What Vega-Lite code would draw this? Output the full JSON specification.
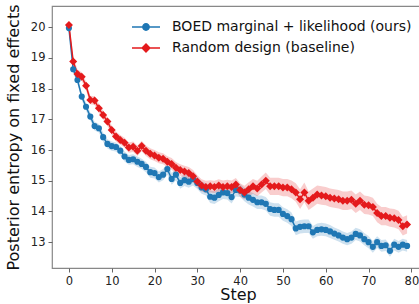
{
  "$schema": "https://vega.github.io/schema/vega-lite/v6.json",
  "width": 372,
  "height": 262,
  "autosize": {"type": "none"},
  "padding": {"left": 52, "top": 6, "right": 0, "bottom": 36},
  "config": {
    "font": "DejaVu Sans",
    "view": {"stroke": "#888", "strokeWidth": 1.2},
    "axis": {"domain": false, "grid": false, "labelOverlap": false, "labelFlush": false, "tickColor": "#666", "tickSize": 4, "tickWidth": 1, "labelColor": "#222", "labelFontSize": 11.5, "labelPadding": 3, "titleColor": "#111", "titleFontSize": 16, "titleFontWeight": "normal"}
  },
  "data": {"values": [
    {"s":"b","x":0,"y":19.97,"lo":19.85,"hi":20.09},
    {"s":"b","x":1,"y":18.63,"lo":18.51,"hi":18.75},
    {"s":"b","x":2,"y":18.28,"lo":18.16,"hi":18.40},
    {"s":"b","x":3,"y":17.74,"lo":17.62,"hi":17.86},
    {"s":"b","x":4,"y":17.41,"lo":17.28,"hi":17.54},
    {"s":"b","x":5,"y":17.09,"lo":16.96,"hi":17.22},
    {"s":"b","x":6,"y":16.78,"lo":16.64,"hi":16.92},
    {"s":"b","x":7,"y":16.71,"lo":16.57,"hi":16.85},
    {"s":"b","x":8,"y":16.42,"lo":16.27,"hi":16.57},
    {"s":"b","x":9,"y":16.20,"lo":16.05,"hi":16.35},
    {"s":"b","x":10,"y":16.13,"lo":15.98,"hi":16.28},
    {"s":"b","x":11,"y":16.10,"lo":15.95,"hi":16.25},
    {"s":"b","x":12,"y":15.98,"lo":15.83,"hi":16.13},
    {"s":"b","x":13,"y":15.79,"lo":15.63,"hi":15.95},
    {"s":"b","x":14,"y":15.68,"lo":15.52,"hi":15.84},
    {"s":"b","x":15,"y":15.70,"lo":15.54,"hi":15.86},
    {"s":"b","x":16,"y":15.62,"lo":15.45,"hi":15.79},
    {"s":"b","x":17,"y":15.55,"lo":15.38,"hi":15.72},
    {"s":"b","x":18,"y":15.45,"lo":15.28,"hi":15.62},
    {"s":"b","x":19,"y":15.28,"lo":15.10,"hi":15.46},
    {"s":"b","x":20,"y":15.25,"lo":15.07,"hi":15.43},
    {"s":"b","x":21,"y":15.12,"lo":14.94,"hi":15.30},
    {"s":"b","x":22,"y":15.20,"lo":15.02,"hi":15.38},
    {"s":"b","x":23,"y":15.38,"lo":15.20,"hi":15.56},
    {"s":"b","x":24,"y":15.06,"lo":14.87,"hi":15.25},
    {"s":"b","x":25,"y":15.20,"lo":15.01,"hi":15.39},
    {"s":"b","x":26,"y":14.93,"lo":14.74,"hi":15.12},
    {"s":"b","x":27,"y":15.02,"lo":14.83,"hi":15.21},
    {"s":"b","x":28,"y":14.97,"lo":14.77,"hi":15.17},
    {"s":"b","x":29,"y":15.05,"lo":14.85,"hi":15.25},
    {"s":"b","x":30,"y":14.93,"lo":14.73,"hi":15.13},
    {"s":"b","x":31,"y":14.78,"lo":14.58,"hi":14.98},
    {"s":"b","x":32,"y":14.72,"lo":14.52,"hi":14.92},
    {"s":"b","x":33,"y":14.48,"lo":14.28,"hi":14.68},
    {"s":"b","x":34,"y":14.45,"lo":14.24,"hi":14.66},
    {"s":"b","x":35,"y":14.54,"lo":14.33,"hi":14.75},
    {"s":"b","x":36,"y":14.62,"lo":14.41,"hi":14.83},
    {"s":"b","x":37,"y":14.60,"lo":14.39,"hi":14.81},
    {"s":"b","x":38,"y":14.47,"lo":14.26,"hi":14.68},
    {"s":"b","x":39,"y":14.70,"lo":14.49,"hi":14.91},
    {"s":"b","x":40,"y":14.68,"lo":14.47,"hi":14.89},
    {"s":"b","x":41,"y":14.55,"lo":14.33,"hi":14.77},
    {"s":"b","x":42,"y":14.45,"lo":14.23,"hi":14.67},
    {"s":"b","x":43,"y":14.38,"lo":14.16,"hi":14.60},
    {"s":"b","x":44,"y":14.30,"lo":14.08,"hi":14.52},
    {"s":"b","x":45,"y":14.30,"lo":14.08,"hi":14.52},
    {"s":"b","x":46,"y":14.25,"lo":14.03,"hi":14.47},
    {"s":"b","x":47,"y":14.08,"lo":13.86,"hi":14.30},
    {"s":"b","x":48,"y":14.05,"lo":13.83,"hi":14.27},
    {"s":"b","x":49,"y":14.05,"lo":13.83,"hi":14.27},
    {"s":"b","x":50,"y":13.92,"lo":13.70,"hi":14.14},
    {"s":"b","x":51,"y":13.85,"lo":13.63,"hi":14.07},
    {"s":"b","x":52,"y":13.75,"lo":13.53,"hi":13.97},
    {"s":"b","x":53,"y":13.45,"lo":13.23,"hi":13.67},
    {"s":"b","x":54,"y":13.50,"lo":13.28,"hi":13.72},
    {"s":"b","x":55,"y":13.52,"lo":13.30,"hi":13.74},
    {"s":"b","x":56,"y":13.52,"lo":13.30,"hi":13.74},
    {"s":"b","x":57,"y":13.32,"lo":13.11,"hi":13.53},
    {"s":"b","x":58,"y":13.40,"lo":13.19,"hi":13.61},
    {"s":"b","x":59,"y":13.42,"lo":13.21,"hi":13.63},
    {"s":"b","x":60,"y":13.40,"lo":13.19,"hi":13.61},
    {"s":"b","x":61,"y":13.35,"lo":13.14,"hi":13.56},
    {"s":"b","x":62,"y":13.28,"lo":13.08,"hi":13.48},
    {"s":"b","x":63,"y":13.22,"lo":13.02,"hi":13.42},
    {"s":"b","x":64,"y":13.15,"lo":12.95,"hi":13.35},
    {"s":"b","x":65,"y":13.10,"lo":12.90,"hi":13.30},
    {"s":"b","x":66,"y":13.15,"lo":12.95,"hi":13.35},
    {"s":"b","x":67,"y":13.27,"lo":13.07,"hi":13.47},
    {"s":"b","x":68,"y":13.22,"lo":13.02,"hi":13.42},
    {"s":"b","x":69,"y":13.10,"lo":12.90,"hi":13.30},
    {"s":"b","x":70,"y":13.00,"lo":12.80,"hi":13.20},
    {"s":"b","x":71,"y":12.85,"lo":12.66,"hi":13.04},
    {"s":"b","x":72,"y":13.00,"lo":12.81,"hi":13.19},
    {"s":"b","x":73,"y":12.88,"lo":12.69,"hi":13.07},
    {"s":"b","x":74,"y":12.90,"lo":12.71,"hi":13.09},
    {"s":"b","x":75,"y":12.72,"lo":12.53,"hi":12.91},
    {"s":"b","x":76,"y":12.92,"lo":12.73,"hi":13.11},
    {"s":"b","x":77,"y":12.85,"lo":12.66,"hi":13.04},
    {"s":"b","x":78,"y":12.92,"lo":12.73,"hi":13.11},
    {"s":"b","x":79,"y":12.88,"lo":12.69,"hi":13.07},
    {"s":"r","x":0,"y":20.07,"lo":19.92,"hi":20.22},
    {"s":"r","x":1,"y":18.88,"lo":18.73,"hi":19.03},
    {"s":"r","x":2,"y":18.48,"lo":18.34,"hi":18.62},
    {"s":"r","x":3,"y":18.39,"lo":18.25,"hi":18.53},
    {"s":"r","x":4,"y":18.09,"lo":17.95,"hi":18.23},
    {"s":"r","x":5,"y":17.63,"lo":17.49,"hi":17.77},
    {"s":"r","x":6,"y":17.61,"lo":17.47,"hi":17.75},
    {"s":"r","x":7,"y":17.36,"lo":17.21,"hi":17.51},
    {"s":"r","x":8,"y":17.14,"lo":16.99,"hi":17.29},
    {"s":"r","x":9,"y":16.93,"lo":16.78,"hi":17.08},
    {"s":"r","x":10,"y":16.65,"lo":16.50,"hi":16.80},
    {"s":"r","x":11,"y":16.44,"lo":16.28,"hi":16.60},
    {"s":"r","x":12,"y":16.33,"lo":16.17,"hi":16.49},
    {"s":"r","x":13,"y":16.24,"lo":16.08,"hi":16.40},
    {"s":"r","x":14,"y":16.08,"lo":15.91,"hi":16.25},
    {"s":"r","x":15,"y":16.11,"lo":15.94,"hi":16.28},
    {"s":"r","x":16,"y":15.98,"lo":15.81,"hi":16.15},
    {"s":"r","x":17,"y":16.13,"lo":15.96,"hi":16.30},
    {"s":"r","x":18,"y":15.98,"lo":15.81,"hi":16.15},
    {"s":"r","x":19,"y":15.88,"lo":15.70,"hi":16.06},
    {"s":"r","x":20,"y":15.82,"lo":15.64,"hi":16.00},
    {"s":"r","x":21,"y":15.75,"lo":15.57,"hi":15.93},
    {"s":"r","x":22,"y":15.72,"lo":15.54,"hi":15.90},
    {"s":"r","x":23,"y":15.62,"lo":15.44,"hi":15.80},
    {"s":"r","x":24,"y":15.55,"lo":15.36,"hi":15.74},
    {"s":"r","x":25,"y":15.42,"lo":15.23,"hi":15.61},
    {"s":"r","x":26,"y":15.35,"lo":15.16,"hi":15.54},
    {"s":"r","x":27,"y":15.30,"lo":15.11,"hi":15.49},
    {"s":"r","x":28,"y":15.25,"lo":15.05,"hi":15.45},
    {"s":"r","x":29,"y":15.15,"lo":14.95,"hi":15.35},
    {"s":"r","x":30,"y":14.98,"lo":14.78,"hi":15.18},
    {"s":"r","x":31,"y":14.85,"lo":14.65,"hi":15.05},
    {"s":"r","x":32,"y":14.80,"lo":14.60,"hi":15.00},
    {"s":"r","x":33,"y":14.82,"lo":14.62,"hi":15.02},
    {"s":"r","x":34,"y":14.80,"lo":14.60,"hi":15.00},
    {"s":"r","x":35,"y":14.85,"lo":14.65,"hi":15.05},
    {"s":"r","x":36,"y":14.80,"lo":14.59,"hi":15.01},
    {"s":"r","x":37,"y":14.82,"lo":14.61,"hi":15.03},
    {"s":"r","x":38,"y":14.80,"lo":14.59,"hi":15.01},
    {"s":"r","x":39,"y":14.88,"lo":14.67,"hi":15.09},
    {"s":"r","x":40,"y":14.70,"lo":14.48,"hi":14.92},
    {"s":"r","x":41,"y":14.62,"lo":14.40,"hi":14.84},
    {"s":"r","x":42,"y":14.72,"lo":14.49,"hi":14.95},
    {"s":"r","x":43,"y":14.82,"lo":14.58,"hi":15.06},
    {"s":"r","x":44,"y":14.75,"lo":14.50,"hi":15.00},
    {"s":"r","x":45,"y":14.88,"lo":14.62,"hi":15.14},
    {"s":"r","x":46,"y":15.00,"lo":14.73,"hi":15.27},
    {"s":"r","x":47,"y":14.82,"lo":14.54,"hi":15.10},
    {"s":"r","x":48,"y":14.82,"lo":14.54,"hi":15.10},
    {"s":"r","x":49,"y":14.82,"lo":14.54,"hi":15.10},
    {"s":"r","x":50,"y":14.78,"lo":14.50,"hi":15.06},
    {"s":"r","x":51,"y":14.78,"lo":14.50,"hi":15.06},
    {"s":"r","x":52,"y":14.72,"lo":14.43,"hi":15.01},
    {"s":"r","x":53,"y":14.62,"lo":14.32,"hi":14.92},
    {"s":"r","x":54,"y":14.40,"lo":14.08,"hi":14.72},
    {"s":"r","x":55,"y":14.62,"lo":14.30,"hi":14.94},
    {"s":"r","x":56,"y":14.35,"lo":14.05,"hi":14.65},
    {"s":"r","x":57,"y":14.45,"lo":14.15,"hi":14.75},
    {"s":"r","x":58,"y":14.55,"lo":14.25,"hi":14.85},
    {"s":"r","x":59,"y":14.52,"lo":14.22,"hi":14.82},
    {"s":"r","x":60,"y":14.50,"lo":14.20,"hi":14.80},
    {"s":"r","x":61,"y":14.45,"lo":14.15,"hi":14.75},
    {"s":"r","x":62,"y":14.42,"lo":14.12,"hi":14.72},
    {"s":"r","x":63,"y":14.40,"lo":14.10,"hi":14.70},
    {"s":"r","x":64,"y":14.35,"lo":14.05,"hi":14.65},
    {"s":"r","x":65,"y":14.35,"lo":14.05,"hi":14.65},
    {"s":"r","x":66,"y":14.38,"lo":14.08,"hi":14.68},
    {"s":"r","x":67,"y":14.25,"lo":13.95,"hi":14.55},
    {"s":"r","x":68,"y":14.35,"lo":14.05,"hi":14.65},
    {"s":"r","x":69,"y":14.22,"lo":13.92,"hi":14.52},
    {"s":"r","x":70,"y":14.20,"lo":13.90,"hi":14.50},
    {"s":"r","x":71,"y":14.15,"lo":13.85,"hi":14.45},
    {"s":"r","x":72,"y":13.95,"lo":13.65,"hi":14.25},
    {"s":"r","x":73,"y":13.85,"lo":13.55,"hi":14.15},
    {"s":"r","x":74,"y":13.85,"lo":13.55,"hi":14.15},
    {"s":"r","x":75,"y":13.80,"lo":13.50,"hi":14.10},
    {"s":"r","x":76,"y":13.78,"lo":13.48,"hi":14.08},
    {"s":"r","x":77,"y":13.72,"lo":13.42,"hi":14.02},
    {"s":"r","x":78,"y":13.52,"lo":13.22,"hi":13.82},
    {"s":"r","x":79,"y":13.58,"lo":13.28,"hi":13.88}
  ]},
  "encoding": {
    "x": {"field": "x", "type": "quantitative", "title": "Step",
      "scale": {"domain": [-3.95, 82.95], "nice": false, "zero": false},
      "axis": {"values": [0,10,20,30,40,50,60,70,80], "titlePadding": 0}},
    "y": {"field": "y", "type": "quantitative",
      "scale": {"domain": [12.16, 20.69], "nice": false, "zero": false},
      "title": "Posterior entropy on fixed effects",
      "axis": {"values": [13,14,15,16,17,18,19,20], "titlePadding": 9}},
    "color": {"field": "s", "type": "nominal",
      "scale": {"domain": ["b","r"], "range": ["#1f77b4","#e41a1c"]},
      "legend": {
        "orient": "none", "legendX": 86, "legendY": 13, "title": null,
        "padding": 0, "rowPadding": 6, "labelFontSize": 14, "labelColor": "#111", "labelLimit": 0,
        "labelOffset": 18, "symbolSize": 196, "symbolStrokeWidth": 1.5,
        "labelExpr": "datum.value === 'b' ? 'BOED marginal + likelihood (ours)' : 'Random design (baseline)'",
        "encode": {"symbols": {"update": {
          "shape": {"signal": "datum.value === 'b' ? 'M-2,0H2M0.45,0A0.45,0.45,0,1,1,-0.45,0A0.45,0.45,0,1,1,0.45,0Z' : 'M-2,0H2M0,-0.55L0.55,0L0,0.55L-0.55,0Z'"},
          "size": {"value": 196},
          "fill": {"signal": "datum.value === 'b' ? '#1f77b4' : '#e41a1c'"},
          "stroke": {"signal": "datum.value === 'b' ? '#1f77b4' : '#e41a1c'"},
          "strokeWidth": {"value": 1.5},
          "opacity": {"value": 1},
          "fillOpacity": {"value": 1},
          "strokeOpacity": {"value": 1}
        }}}
      }
    }
  },
  "layer": [
    {
      "mark": {"type": "area", "opacity": 0.22},
      "encoding": {
        "y": {"field": "lo", "type": "quantitative",
          "title": "Posterior entropy on fixed effects",
          "axis": {"values": [13,14,15,16,17,18,19,20], "titlePadding": 9}},
        "y2": {"field": "hi"}
      }
    },
    {
      "mark": {"type": "line", "strokeWidth": 1.5},
      "encoding": {}
    },
    {
      "mark": {"type": "point", "filled": true, "opacity": 1},
      "encoding": {
        "shape": {"condition": {"test": "datum.s === 'r'", "value": "diamond"}, "value": "circle"},
        "size": {"condition": {"test": "datum.s === 'r'", "value": 64}, "value": 38}
      }
    }
  ]
}
